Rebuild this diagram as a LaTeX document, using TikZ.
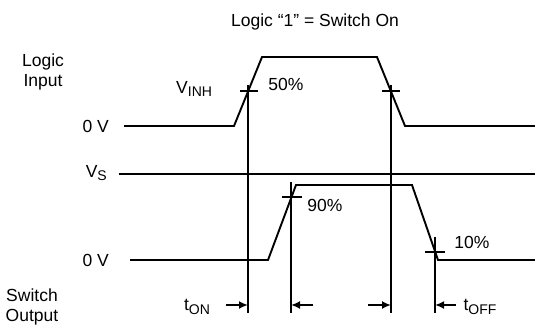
\documentclass[tikz,border=0pt]{standalone}
\usepackage{fontspec}
\setmainfont{Liberation Sans}
\usetikzlibrary{arrows.meta}
\newcommand{\lowidx}[1]{\raisebox{-0.35ex}{\fontsize{14}{14}\selectfont #1}}

\begin{document}
\begin{tikzpicture}[x=1pt,y=-1pt,
    wave/.style={line width=1.9pt},
    lbl/.style={inner sep=0pt,font=\fontsize{17.5}{20}\selectfont},
    tarrow/.style={line width=1.9pt,-{Latex[length=9pt,width=8pt]}}]
  \useasboundingbox (0,0) rectangle (535,326);
  % labels
  \node[lbl] (title) at (315,22) {Logic “1” = Switch On};
  \node[lbl,align=center] (login) at (43,72) {Logic\\Input};
  \node[lbl,anchor=west] (vinh) at (176,89) {V\lowidx{INH}};
  \node[lbl] (p50) at (286,84) {50\%};
  \node[lbl,anchor=east] (zin) at (109,126) {0 V};
  \node[lbl,anchor=east] (vs) at (107,173) {V\lowidx{S}};
  \node[lbl] (p90) at (325,205) {90\%};
  \node[lbl,anchor=east] (zout) at (109,260) {0 V};
  \node[lbl] (p10) at (472,242) {10\%};
  \node[lbl,align=center] (swout) at (32,307) {Switch\\Output};
  \node[lbl] (ton) at (197,307) {t\lowidx{ON}};
  \node[lbl] (toff) at (480,307) {t\lowidx{OFF}};
  % input waveform
  \draw[wave] (124,126) -- (234,126) -- (262,57) -- (377,57) -- (405,126) -- (535,126);
  \draw[wave] (240,91) -- (258,91) (382,91) -- (400,91);
  % supply line
  \draw[wave] (119,174) -- (535,174);
  % output waveform
  \draw[wave] (130,260) -- (268,260) -- (296,185) -- (412,185) -- (438,260) -- (535,260);
  \draw[wave] (282,197) -- (302,197) (425,252) -- (445,252);
  % timing lines
  \draw[wave] (248,85) -- (248,313) (391,85) -- (391,313);
  \draw[wave] (291,182) -- (291,313) (435,237) -- (435,313);
  \coordinate (t1) at (248,305);
  \coordinate (t2) at (291,305);
  \coordinate (t3) at (391,305);
  \coordinate (t4) at (435,305);
  \draw[tarrow] (226,305) -- (t1);
  \draw[tarrow] (313,305) -- (t2);
  \draw[tarrow] (368,305) -- (t3);
  \draw[tarrow] (456,305) -- (t4);
\end{tikzpicture}
\end{document}
